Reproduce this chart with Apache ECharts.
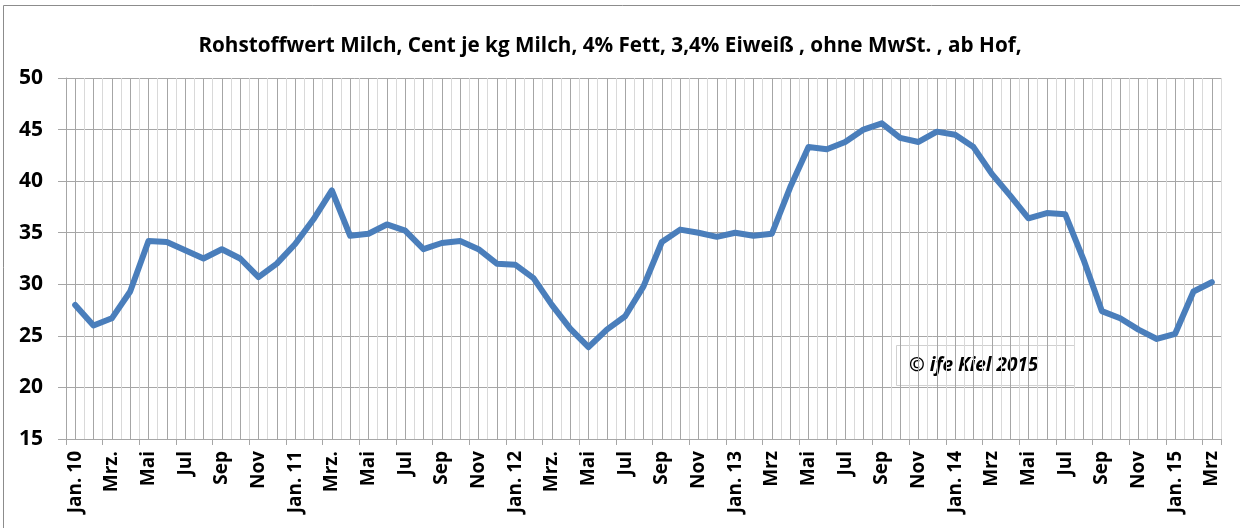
<!DOCTYPE html>
<html>
<head>
<meta charset="utf-8">
<script src="https://cdn.jsdelivr.net/npm/echarts@6/dist/echarts.min.js"></script>
<style>
html, body { margin: 0; padding: 0; background: #fff; }
#chart { width: 1240px; height: 528px; }
</style>
</head>
<body>
<div id="chart"></div>
<script>
// Monate Jan. 2010 bis Mrz. 2015
var months = [
  'Jan. 10', 'Feb', 'Mrz.', 'Apr', 'Mai', 'Jun', 'Jul', 'Aug', 'Sep', 'Okt', 'Nov', 'Dez',
  'Jan. 11', 'Feb', 'Mrz.', 'Apr', 'Mai', 'Jun', 'Jul', 'Aug', 'Sep', 'Okt', 'Nov', 'Dez',
  'Jan. 12', 'Feb', 'Mrz.', 'Apr', 'Mai', 'Jun', 'Jul', 'Aug', 'Sep', 'Okt', 'Nov', 'Dez',
  'Jan. 13', 'Feb', 'Mrz', 'Apr', 'Mai', 'Jun', 'Jul', 'Aug', 'Sep', 'Okt', 'Nov', 'Dez',
  'Jan. 14', 'Feb', 'Mrz', 'Apr', 'Mai', 'Jun', 'Jul', 'Aug', 'Sep', 'Okt', 'Nov', 'Dez',
  'Jan. 15', 'Feb', 'Mrz'
];

// Rohstoffwert, Cent je kg
var werte2010 = [28.0, 26.0, 26.7, 29.3, 34.2, 34.1, 33.3, 32.5, 33.4, 32.5, 30.7, 32.0];
var werte2011 = [33.9, 36.3, 39.1, 34.7, 34.9, 35.8, 35.2, 33.4, 34.0, 34.2, 33.4, 32.0];
var werte2012 = [31.9, 30.6, 28.0, 25.7, 23.9, 25.6, 26.9, 29.8, 34.1, 35.3, 35.0, 34.6];
var werte2013 = [35.0, 34.7, 34.9, 39.4, 43.3, 43.1, 43.8, 45.0, 45.6, 44.2, 43.8, 44.8];
var werte2014 = [44.5, 43.3, 40.7, 38.6, 36.4, 36.9, 36.8, 32.4, 27.4, 26.7, 25.6, 24.7];
var werte2015 = [25.2, 29.3, 30.2];

var werte = [].concat(werte2010, werte2011, werte2012, werte2013, werte2014, werte2015);

var titel = 'Rohstoffwert Milch, Cent je kg Milch, 4% Fett, 3,4% Eiweiß , ohne MwSt. , ab Hof,';
var quelle = '© ife Kiel 2015';

var myChart = echarts.init(document.getElementById('chart'));
var fontFam = '"Open Sans", "Noto Sans", sans-serif';

var option = {
    backgroundColor: '#fff',
    animation: false,
    title: {
        text: titel,
        left: 605,
        textAlign: 'center',
        top: 31,
        textStyle: {
            fontFamily: fontFam,
            fontWeight: 'bold',
            fontSize: 20.7,
            color: '#000'
        }
    },
    grid: {
        left: 66,
        right: 19,
        top: 78,
        bottom: 89
    },
    xAxis: [
        {
            type: 'category',
            data: months,
            boundaryGap: true,
            axisLine: { show: true, lineStyle: { color: '#a6a6a6', width: 1 } },
            axisTick: {
                show: true,
                length: 6,
                lineStyle: { color: '#a6a6a6' }
            },
            axisLabel: {
                interval: 1,
                rotate: 90,
                margin: 12,
                fontFamily: fontFam,
                fontWeight: 'bold',
                fontSize: 19,
                color: '#000'
            },
            splitLine: { show: false }
        },
        {
            // nur fuer die Gitterlinien (Monatsmitte dunkler, Monatsgrenze heller)
            type: 'value',
            min: 0,
            max: 63,
            interval: 0.5,
            show: true,
            position: 'bottom',
            axisLine: { show: false },
            axisTick: { show: false },
            axisLabel: { show: false },
            splitLine: {
                show: true,
                lineStyle: { color: ['#d9d9d9', '#a6a6a6'], width: 1 }
            }
        }
    ],
    yAxis: {
        type: 'value',
        min: 15,
        max: 50,
        interval: 5,
        axisLine: { show: true, lineStyle: { color: '#a6a6a6' } },
        axisTick: { show: true, length: 8, lineStyle: { color: '#a6a6a6' } },
        axisLabel: {
            margin: 23,
            fontFamily: fontFam,
            fontWeight: 'bold',
            fontSize: 21,
            color: '#000'
        },
        splitLine: { lineStyle: { color: '#a6a6a6', width: 1 } }
    },
    series: [
        {
            type: 'line',
            xAxisIndex: 0,
            data: werte,
            symbol: 'none',
            lineStyle: { color: '#4a7ebb', width: 6, join: 'round', cap: 'round' },
            z: 5
        }
    ],
    graphic: [
        {
            type: 'rect',
            shape: { x: 3.5, y: 5.5, width: 1250, height: 540 },
            style: { fill: 'none', stroke: '#8c8c8c', lineWidth: 1 },
            silent: true
        },
        {
            type: 'group',
            left: 896,
            top: 345,
            z: 10,
            children: [
                {
                    type: 'rect',
                    shape: { x: 0.5, y: 0.5, width: 178, height: 40 },
                    style: { fill: '#fff', stroke: '#d0d0d0', lineWidth: 1 }
                },
                {
                    type: 'text',
                    x: 13,
                    y: 21,
                    style: {
                        text: quelle,
                        fontFamily: fontFam,
                        fontWeight: 'bold',
                        fontStyle: 'italic',
                        fontSize: 19,
                        fill: '#000',
                        verticalAlign: 'middle'
                    }
                }
            ]
        }
    ]
};

myChart.setOption(option);
</script>
</body>
</html>
